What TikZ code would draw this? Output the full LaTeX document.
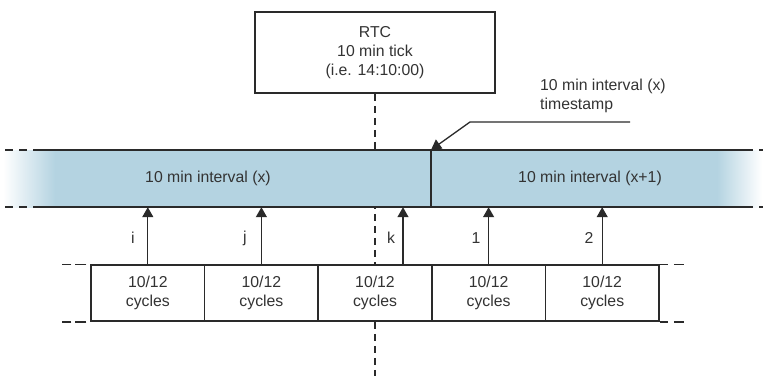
\documentclass[tikz,border=0pt]{standalone}
\usepackage{fontspec}
\setmainfont{Liberation Sans}
\usetikzlibrary{arrows.meta}
\definecolor{bandblue}{HTML}{B4D3E1}
\definecolor{ink}{HTML}{2A2A2A}
\definecolor{txt}{HTML}{333333}
\begin{document}
\begin{tikzpicture}[x=1pt,y=-1pt,
  every node/.style={text=txt, font=\fontsize{15.8}{19}\selectfont},
  cyclebox/.style={draw=ink, line width=1.5pt, fill=white, minimum width=113.6pt, minimum height=56pt, inner sep=0pt, align=center},
  rtcbox/.style={draw=ink, line width=1.5pt, fill=white, minimum width=240pt, minimum height=81pt, inner sep=0pt, align=center},
  vdash/.style={draw=ink, line width=1.4pt, dash pattern=on 7pt off 5pt},
  sidedash/.style={draw=ink, line width=1.6pt, dash pattern=on 8pt off 6pt},
  boxdash/.style={draw=ink, line width=1.5pt},
  bandline/.style={draw=ink, line width=1.7pt},
  uparrow/.style={draw=ink, line width=1.3pt, -{Triangle[width=11pt,length=10pt]}},
  lbl/.style={inner sep=0pt}
]
\useasboundingbox (0,0) rectangle (763,376);
% RTC box and vertical dashed line
\node[rtcbox] (rtc) at (375,52.5) {RTC\\10 min tick\\(i.e. 14:10:00)};
\coordinate (vbot) at (375,376);
\draw[vdash] (rtc.south) -- (vbot);
% band
\fill[left color=white, right color=bandblue, draw=none] (3,150) rectangle (55,207);
\fill[bandblue] (55,150) rectangle (717,207);
\fill[left color=bandblue, right color=white, draw=none] (717,150) rectangle (762,207);
\node[minimum width=718pt, minimum height=57pt, inner sep=0pt] (band) at (394,178.5) {};
\draw[bandline] (33,150) -- (753,150);
\draw[bandline] (33,207) -- (753,207);
\draw[sidedash] (5,150) -- (31,150);
\draw[sidedash] (5,207) -- (31,207);
\draw[sidedash] (759,150) -- (770,150);
\draw[sidedash] (759,207) -- (770,207);
\node (ix) at (208,178) {10 min interval (x)};
\node (ixp) at (590,178) {10 min interval (x+1)};
% cycle boxes
\node[cyclebox] (c1) at (147.8,293) {10/12\\cycles};
\node[cyclebox] (c2) at (261.4,293) {10/12\\cycles};
\node[cyclebox] (c3) at (375,293) {10/12\\cycles};
\node[cyclebox] (c4) at (488.6,293) {10/12\\cycles};
\node[cyclebox] (c5) at (602.2,293) {10/12\\cycles};
\foreach \a in {north west, south west}{
  \draw[boxdash] ([xshift=-4pt]c1.\a) -- ([xshift=-15pt]c1.\a);
  \draw[boxdash] ([xshift=-19pt]c1.\a) -- ([xshift=-28pt]c1.\a);
}
\foreach \a in {north east, south east}{
  \draw[boxdash] (c5.\a) -- ([xshift=8pt]c5.\a);
  \draw[boxdash] ([xshift=14pt]c5.\a) -- ([xshift=24pt]c5.\a);
}
% divider
\draw[bandline] (c4.west |- band.north) -- (c4.west |- band.south);
% arrows
\coordinate (kfoot) at (403,265);
\draw[uparrow] (c1.north) -- (c1.north |- band.south);
\draw[uparrow] (c2.north) -- (c2.north |- band.south);
\draw[uparrow] (kfoot) -- (kfoot |- band.south);
\draw[uparrow] (c4.north) -- (c4.north |- band.south);
\draw[uparrow] (c5.north) -- (c5.north |- band.south);
\node[lbl] (li) at (133,238) {i};
\node[lbl] (lj) at (245,238) {j};
\node[lbl] (lk) at (391,238) {k};
\node[lbl] (l1) at (476,238) {1};
\node[lbl] (l2) at (589,238) {2};
% timestamp leader
\coordinate (tsend) at (630,122);
\coordinate (tsknee) at (470,122);
\coordinate (tstip) at (c4.west |- band.north);
\draw[draw=ink, line width=1.3pt, -{Triangle[width=11pt,length=10pt]}] (tsend) -- (tsknee) -- (tstip);
\node[anchor=north west, align=left, inner sep=0pt] (ts) at (540,79) {10 min interval (x)\\timestamp};
\end{tikzpicture}
\end{document}
